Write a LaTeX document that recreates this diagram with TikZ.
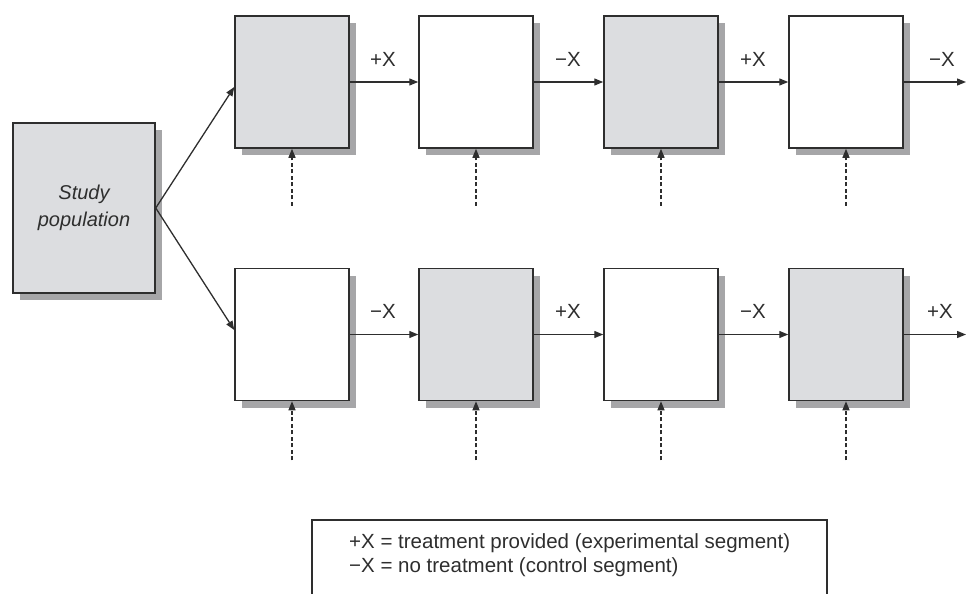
\documentclass[tikz,border=0pt]{standalone}
\usepackage{fontspec}
\setmainfont{Liberation Sans}
\usetikzlibrary{arrows.meta,shadows,calc}
\definecolor{boxgray}{HTML}{DCDDE0}
\definecolor{shadowgray}{HTML}{A6A6A8}
\definecolor{linegray}{HTML}{2E2E2E}
\begin{document}
\begin{tikzpicture}[x=1pt,y=-1pt,
  segbox/.style={draw=linegray,line width=1.5pt,minimum width=114pt,minimum height=132pt,inner sep=0pt,
    drop shadow={shadow xshift=7pt,shadow yshift=-7pt,fill=shadowgray,opacity=1}},
  graybox/.style={segbox,fill=boxgray},
  whitebox/.style={segbox,fill=white},
  flow/.style={draw=linegray,line width=1.3pt,-{Triangle[length=9pt,width=7pt]}},
  dasharrow/.style={draw=linegray,line width=1.3pt,dash pattern=on 4pt off 2.5pt,-{Triangle[length=9pt,width=7pt]}},
  lbl/.style={font=\fontsize{20.5}{24}\selectfont,text=linegray,inner sep=0pt}
]
\useasboundingbox (0,0) rectangle (966,594);

% study population
\node[segbox,fill=boxgray,minimum width=142pt,minimum height=170pt,align=center,
  font=\fontsize{20}{27}\selectfont\itshape,text=linegray] (study) at (84,208) {Study\\population};

% top row
\node[graybox]  (t1) at (292,82) {};
\node[whitebox] (t2) at (476,82) {};
\node[graybox]  (t3) at (661,82) {};
\node[whitebox] (t4) at (846,82) {};
% bottom row
\node[whitebox] (b1) at (292,334.5) {};
\node[graybox]  (b2) at (476,334.5) {};
\node[whitebox] (b3) at (661,334.5) {};
\node[graybox]  (b4) at (846,334.5) {};

% fan arrows
\draw[flow] (study.east) -- ([yshift=-5pt]t1.west);
\draw[flow] (study.east) -- ([yshift=4.5pt]b1.west);

% ends
\coordinate (tend) at (966,82);
\coordinate (bend) at (966,334.5);

% top row arrows
\draw[flow] (t1.east) -- (t2.west);
\draw[flow] (t2.east) -- (t3.west);
\draw[flow] (t3.east) -- (t4.west);
\draw[flow] (t4.east) -- (tend);
\node[lbl] (lt1) at (383,59) {+X};
\node[lbl] (lt2) at (568,59) {\char"2212X};
\node[lbl] (lt3) at (753,59) {+X};
\node[lbl] (lt4) at (942,59) {\char"2212X};

% bottom row arrows
\draw[flow] (b1.east) -- (b2.west);
\draw[flow] (b2.east) -- (b3.west);
\draw[flow] (b3.east) -- (b4.west);
\draw[flow] (b4.east) -- (bend);
\node[lbl] (lb1) at (383,311) {\char"2212X};
\node[lbl] (lb2) at (568,311) {+X};
\node[lbl] (lb3) at (753,311) {\char"2212X};
\node[lbl] (lb4) at (940,311) {+X};

% dashed input arrows
\foreach \n in {t1,t2,t3,t4}{
  \coordinate (d\n) at ([yshift=-57pt]\n.south);
  \draw[dasharrow] (d\n) -- (\n.south);
}
\foreach \n in {b1,b2,b3,b4}{
  \coordinate (d\n) at ([yshift=-59pt]\n.south);
  \draw[dasharrow] (d\n) -- (\n.south);
}

% legend
\draw[draw=linegray,line width=1.3pt] (312,594) -- (312,520) -- (827,520) -- (827,594);
\node[lbl,anchor=west] (leg1) at (349,543) {+X = treatment provided (experimental segment)};
\node[lbl,anchor=west] (leg2) at (349,567) {\char"2212X = no treatment (control segment)};
\end{tikzpicture}
\end{document}
